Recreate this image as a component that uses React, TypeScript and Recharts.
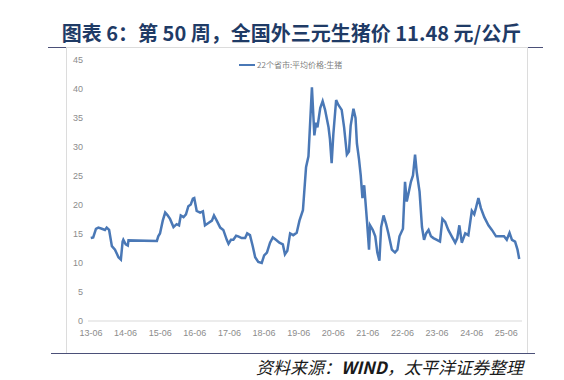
import React from 'react';
import { LineChart, Line, XAxis, YAxis, Legend } from 'recharts';

// decimal years (yy + fraction)
const years = [
  13.41, 13.48, 13.56, 13.63, 13.73, 13.82, 13.87, 13.94, 14.02, 14.11,
  14.21, 14.28, 14.33, 14.35, 14.42, 14.48, 14.5, 15.32, 15.36, 15.41,
  15.49, 15.56, 15.62, 15.7, 15.8, 15.89, 15.96, 16.01, 16.09, 16.16,
  16.23, 16.3, 16.36, 16.4, 16.47, 16.57, 16.65, 16.71, 16.81, 16.91,
  16.97, 17.05, 17.15, 17.24, 17.34, 17.39, 17.46, 17.53, 17.61, 17.67,
  17.77, 17.87, 17.93, 18.01, 18.09, 18.16, 18.25, 18.35, 18.42, 18.5,
  18.59, 18.67, 18.76, 18.86, 18.96, 19.02, 19.09, 19.17, 19.26, 19.36,
  19.44, 19.54, 19.63, 19.7, 19.8, 19.87, 19.92, 19.96, 20.04, 20.11,
  20.18, 20.28, 20.32, 20.37, 20.42, 20.5, 20.56, 20.66, 20.73, 20.81,
  20.87, 20.92, 21.0, 21.06, 21.1, 21.16, 21.21, 21.26, 21.31, 21.39,
  21.45, 21.48, 21.56, 21.63, 21.69, 21.75, 21.8, 21.87, 21.94, 22.01,
  22.11, 22.2, 22.27, 22.33, 22.43, 22.49, 22.54, 22.59, 22.66, 22.72,
  22.78, 22.83, 22.91, 22.98, 23.04, 23.1, 23.17, 23.24, 23.31, 23.41,
  23.5, 23.57, 23.65, 23.74, 23.84, 23.94, 24.0, 24.06, 24.13, 24.23,
  24.32, 24.42, 24.49, 24.54, 24.61, 24.68, 24.78, 24.9, 25.0, 25.12,
  25.24, 25.35, 25.43, 25.51, 25.58, 25.67, 25.74, 25.79,
];

const prices = [
  14.3, 14.4, 15.9, 16.1, 15.9, 15.7, 16.1, 15.7, 12.9, 12.3,
  11.0, 10.6, 13.7, 14.0, 13.2, 13.0, 13.9, 13.8, 14.6, 15.1,
  17.3, 18.7, 18.3, 17.6, 16.2, 16.7, 16.5, 18.2, 17.9, 18.4,
  19.8, 20.1, 21.1, 21.2, 19.0, 18.7, 18.9, 16.5, 16.9, 17.3,
  18.2, 17.3, 16.1, 15.7, 14.0, 13.3, 14.0, 14.0, 14.7, 14.6,
  14.3, 14.3, 15.1, 14.8, 12.9, 11.0, 10.2, 10.0, 11.3, 11.8,
  13.5, 14.4, 14.0, 13.5, 13.2, 11.5, 12.1, 15.1, 14.8, 15.2,
  17.3, 19.1, 26.5, 28.4, 40.3, 32.0, 34.2, 33.4, 36.7, 37.9,
  36.4, 33.4, 31.4, 27.2, 32.3, 38.1, 37.3, 36.4, 33.4, 28.7,
  29.2, 33.7, 36.6, 35.0, 30.6, 27.9, 25.1, 21.2, 23.4, 17.3,
  12.3, 16.5, 15.7, 14.6, 11.8, 10.4, 16.2, 18.2, 16.8, 15.1,
  12.3, 11.8, 12.3, 14.6, 15.9, 24.0, 20.6, 22.0, 24.0, 25.1,
  28.7, 25.6, 22.3, 16.2, 14.0, 15.1, 15.7, 14.6, 14.3, 14.0,
  13.7, 17.6, 17.1, 15.7, 14.6, 13.5, 14.3, 16.5, 13.5, 15.1,
  14.8, 19.0, 18.4, 19.5, 21.2, 19.5, 17.9, 16.5, 15.7, 14.6,
  14.6, 14.6, 14.0, 15.2, 14.0, 13.7, 12.3, 10.7,
];

const xTicks = [13, 14, 15, 16, 17, 18, 19, 20, 21, 22, 23, 24, 25].map((y) => y + 5 / 12);
const yTicks = [0, 5, 10, 15, 20, 25, 30, 35, 40, 45];

const SERIES_NAME = '22个省市:平均价格:生猪';
const LINE_COLOR = '#4a78b6';
const TICK_COLOR = '#8c8c8c';
const NAVY = '#4b5078';

const data = years.map((t, i) => ({ t, price: prices[i] }));

const tickStyle = { fill: TICK_COLOR, fontSize: 9, fontFamily: '"Liberation Sans Narrow", "Liberation Sans", sans-serif' };

function LegendContent() {
  return (
    <div style={{ display: 'flex', alignItems: 'center' }}>
      <div style={{ width: 16, height: 2.5, background: LINE_COLOR, marginRight: 2 }} />
      <span style={{ fontSize: 8, color: '#7f7f7f', fontFamily: '"Noto Sans CJK SC", sans-serif', lineHeight: '10px' }}>
        {SERIES_NAME}
      </span>
    </div>
  );
}

export default function App() {
  return (
    <div style={{ position: 'absolute', left: 0, top: 0, width: 564, height: 380, background: '#fff', overflow: 'hidden' }}>
      <div
        style={{
          position: 'absolute', left: 0, top: 20, width: 583, textAlign: 'center',
          fontSize: 20, fontWeight: 'bold', color: '#1f3b66', lineHeight: '26px',
          fontFamily: '"Noto Sans CJK SC", "Noto Sans", sans-serif', whiteSpace: 'nowrap',
        }}
      >
        图表 6：第 50 周，全国外三元生猪价 11.48 元/公斤
      </div>
      <div style={{ position: 'absolute', left: 48, top: 47, width: 495, height: 1, background: NAVY }} />
      <div
        style={{
          position: 'absolute', left: 66, top: 47, width: 460, height: 305,
          border: '1px solid #dcdcdc', background: '#fff',
        }}
      />
      <div style={{ position: 'absolute', left: 51, top: 353, width: 484, height: 1, background: NAVY }} />
      <div style={{ position: 'absolute', left: 0, top: 0 }}>
        <LineChart width={564} height={380} data={data} margin={{ top: 60, right: 42, left: 58, bottom: 29 }}>
          <XAxis
            dataKey="t"
            type="number"
            domain={[13.33, 25.87]}
            ticks={xTicks}
            tickFormatter={(v: number) => `${Math.floor(v)}-06`}
            tick={tickStyle}
            tickLine={false}
            tickSize={0}
            tickMargin={9}
            axisLine={{ stroke: '#d9d9d9' }}
            height={20}
            interval={0}
          />
          <YAxis
            domain={[0, 45]}
            ticks={yTicks}
            tick={tickStyle}
            tickLine={false}
            axisLine={false}
            tickSize={0}
            tickMargin={5}
            width={30}
            interval={0}
          />
          <Legend
            content={<LegendContent />}
            wrapperStyle={{ position: 'absolute', left: 239, top: 60, width: 'auto' }}
          />
          <Line
            type="linear"
            dataKey="price"
            name={SERIES_NAME}
            stroke={LINE_COLOR}
            strokeWidth={2.5}
            dot={false}
            isAnimationActive={false}
          />
        </LineChart>
      </div>
      <div
        style={{
          position: 'absolute', right: 41, top: 357, fontSize: 17, fontStyle: 'italic',
          color: '#1a1a1a', lineHeight: '19px', whiteSpace: 'nowrap',
          fontFamily: '"Noto Sans CJK SC", sans-serif',
        }}
      >
        资料来源：<b>WIND</b>，太平洋证券整理
      </div>
    </div>
  );
}
